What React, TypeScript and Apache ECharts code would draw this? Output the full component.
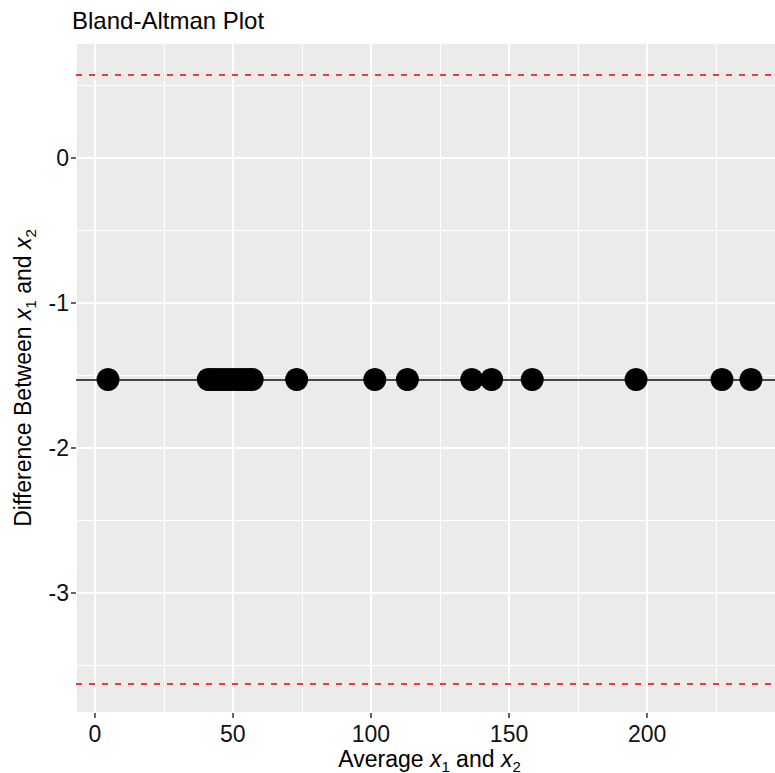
import React, { useEffect, useRef } from "react";
import * as echarts from "echarts";

const titleText = "Bland-Altman Plot";
const averages = [4.8, 41.1, 42.5, 44, 45.5, 47, 48.5, 50, 51.5, 53, 54.5, 56, 57, 73.1, 101.4, 113.2, 136.5, 143.7, 158.4, 196, 227.1, 237.6];
const differences = [-1.53, -1.53, -1.53, -1.53, -1.53, -1.53, -1.53, -1.53, -1.53, -1.53, -1.53, -1.53, -1.53, -1.53, -1.53, -1.53, -1.53, -1.53, -1.53, -1.53, -1.53, -1.53];
const meanDiff = -1.53;
const upperLoA = 0.57;
const lowerLoA = -3.63;
const xRange = [-6.8, 249.2];
const yRange = [-3.83, 0.79];

const FONT = "'Liberation Sans', Arial, Helvetica, sans-serif";

export default function App() {
  const ref = useRef<HTMLDivElement>(null);
  useEffect(() => {
    if (!ref.current) return;
    const chart = echarts.init(ref.current, undefined, { renderer: "svg" });
    const points = averages.map((a, i) => [a, differences[i]]);
    const nameRich = {
      n: { fontSize: 23, fontFamily: FONT, color: "#000", lineHeight: 24 },
      i: { fontSize: 23, fontFamily: FONT, color: "#000", fontStyle: "italic", lineHeight: 24 },
      s: { fontSize: 15, fontFamily: FONT, color: "#000", lineHeight: 10, padding: [14, 0, 0, 0] },
    };
    chart.setOption({
      animation: false,
      backgroundColor: "#ffffff",
      title: {
        text: titleText,
        left: 67,
        top: 3,
        textStyle: { fontSize: 24, fontWeight: "normal", color: "#000", fontFamily: FONT },
      },
      grid: {
        left: 76,
        right: -8,
        top: 43,
        bottom: 60,
        show: true,
        backgroundColor: "#EBEBEB",
        borderWidth: 0,
        containLabel: false,
        outerBoundsMode: "none",
      },
      xAxis: {
        type: "value",
        min: xRange[0],
        max: xRange[1],
        name: "{n|Average }{i|x}{s|1}{n| and }{i|x}{s|2}",
        nameLocation: "middle",
        nameGap: 34,
        nameMoveOverlap: false,
        nameTextStyle: { rich: nameRich },
        axisLine: { show: false, onZero: false },
        axisTick: { show: true, length: 5, lineStyle: { color: "#333", width: 1.5 } },
        axisLabel: {
          showMinLabel: false,
          showMaxLabel: false,
          fontSize: 23,
          lineHeight: 20,
          color: "#111",
          fontFamily: FONT,
          margin: 11,
        },
        splitLine: { show: true, lineStyle: { color: "#ffffff", width: 2 } },
        minorTick: { show: false, splitNumber: 2 },
        minorSplitLine: { show: true, lineStyle: { color: "#ffffff", width: 1 } },
      },
      yAxis: {
        type: "value",
        min: yRange[0],
        max: yRange[1],
        name: "{n|Difference Between }{i|x}{s|1}{n| and }{i|x}{s|2}",
        nameLocation: "middle",
        nameGap: 41,
        nameMoveOverlap: false,
        nameTextStyle: { rich: nameRich },
        axisLine: { show: false, onZero: false },
        axisTick: { show: true, length: 5, lineStyle: { color: "#333", width: 1.5 } },
        axisLabel: {
          showMinLabel: false,
          showMaxLabel: false,
          fontSize: 23,
          color: "#111",
          fontFamily: FONT,
          margin: 7,
        },
        splitLine: { show: true, lineStyle: { color: "#ffffff", width: 2 } },
        minorTick: { show: false, splitNumber: 2 },
        minorSplitLine: { show: true, lineStyle: { color: "#ffffff", width: 1 } },
      },
      series: [
        {
          type: "scatter",
          data: points,
          symbol: "circle",
          symbolSize: 23,
          itemStyle: { color: "#000", opacity: 1 },
          z: 3,
          markLine: {
            silent: true,
            symbol: "none",
            label: { show: false },
            z: 2,
            data: [
              { yAxis: meanDiff, lineStyle: { color: "#111", width: 1.6, type: "solid" } },
              { yAxis: upperLoA, lineStyle: { color: "#F0393C", width: 2, type: [6, 7] } },
              { yAxis: lowerLoA, lineStyle: { color: "#F0393C", width: 2, type: [6, 7] } },
            ],
          },
        },
      ],
    });
    return () => chart.dispose();
  }, []);
  return <div ref={ref} style={{ position: "fixed", left: 0, top: 0, width: 775, height: 773 }} />;
}
